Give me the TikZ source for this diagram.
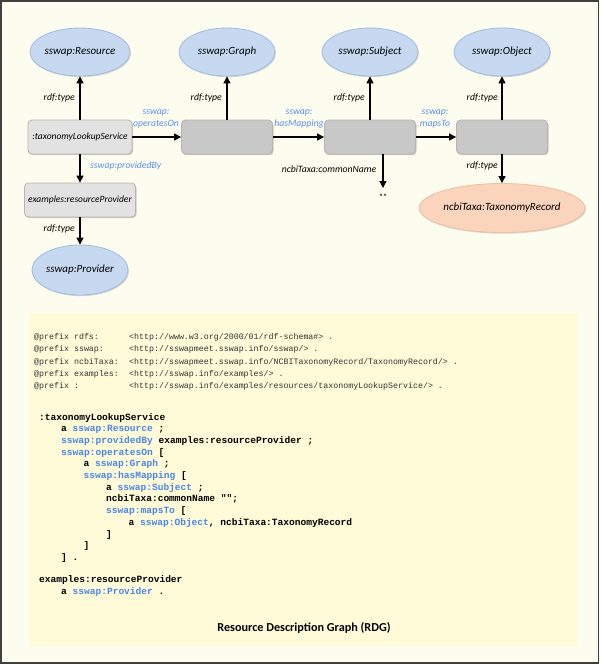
\documentclass[tikz,border=0pt]{standalone}
\usepackage{fontspec}
\setmainfont{Carlito}
\newfontfamily\codefont{Liberation Mono}
\usetikzlibrary{arrows.meta,shapes.geometric,shadows}
\definecolor{outerbg}{RGB}{253,253,239}
\definecolor{codebg}{RGB}{255,251,216}
\definecolor{ellfill}{RGB}{198,217,241}
\definecolor{elldraw}{RGB}{160,188,224}
\definecolor{orfill}{RGB}{251,212,188}
\definecolor{ordraw}{RGB}{240,190,160}
\definecolor{lightbox}{RGB}{226,226,226}
\definecolor{darkbox}{RGB}{200,200,200}
\definecolor{boxdraw}{RGB}{180,180,180}
\definecolor{lblblue}{RGB}{90,140,240}
\definecolor{codeblue}{RGB}{74,134,232}
\newcommand{\cb}[1]{\textcolor{codeblue}{#1}}
\tikzset{
  classell/.style={ellipse, fill=ellfill, draw=elldraw, line width=0.8pt,
    minimum width=96pt, minimum height=48pt, inner sep=0pt,
    font=\itshape\fontsize{11}{12}\selectfont,
    drop shadow={shadow xshift=1pt, shadow yshift=-1.2pt, opacity=0.15, fill=black}},
  orell/.style={classell, fill=orfill, draw=ordraw, minimum width=145pt, minimum height=49pt},
  instbox/.style={rectangle, rounded corners=4pt, fill=lightbox, draw=boxdraw, line width=0.8pt,
    minimum height=34pt, inner sep=0pt,
    font=\itshape\fontsize{9.5}{11}\selectfont,
    drop shadow={shadow xshift=1pt, shadow yshift=-1.2pt, opacity=0.2, fill=black}},
  blankbox/.style={instbox, fill=darkbox, minimum width=91pt},
  rel/.style={-{Triangle[length=7pt,width=7pt]}, line width=1.1pt, black},
  lbl/.style={font=\itshape\fontsize{9.7}{12}\selectfont, inner sep=0pt},
  blbl/.style={lbl, text=lblblue, align=center},
  pref/.style={anchor=base west, inner sep=0pt, font=\codefont\fontsize{8.3}{10}\selectfont, text=black!80},
  body/.style={anchor=base west, inner sep=0pt, font=\codefont\bfseries\fontsize{9.55}{11}\selectfont},
}
\begin{document}
\begin{tikzpicture}[x=1pt,y=-1pt]
\useasboundingbox (0,0) rectangle (600,664);
\fill[outerbg] (0,0) rectangle (600,664);
\draw[black!75, line width=1.6pt] (0.8,0.8) rectangle (598.5,662.8);
\fill[codebg] (29,313) rectangle (578,646);

% diagram nodes
\node[classell] (res) at (80,52) {sswap:Resource};
\node[classell] (gra) at (227,52) {sswap:Graph};
\node[classell] (sub) at (370,52) {sswap:Subject};
\node[classell] (obj) at (502,52) {sswap:Object};
\node[instbox, minimum width=104pt] (tls) at (80,137) {:taxonomyLookupService};
\node[blankbox] (gb) at (227,137) {};
\node[blankbox] (sb) at (370,137) {};
\node[blankbox] (ob) at (502,137) {};
\node[instbox, minimum width=111pt] (rp) at (80,200) {examples:resourceProvider};
\node[classell, minimum height=50pt] (prov) at (80,270) {sswap:Provider};
\node[orell] (tax) at (502,208) {ncbiTaxa:TaxonomyRecord};
\node[lbl, font=\fontsize{9}{10}\selectfont] (empty) at (383,197) {""};
\coordinate (cn) at (383,188);

% connectors
\draw[rel] (tls.north) -- (res.south);
\draw[rel] (gb.north) -- (gra.south);
\draw[rel] (sb.north) -- (sub.south);
\draw[rel] (ob.north) -- (obj.south);
\draw[rel] (ob.south) -- (tax.north);
\draw[rel] (tls.east) -- (gb.west);
\draw[rel] (gb.east) -- (sb.west);
\draw[rel] (sb.east) -- (ob.west);
\draw[rel] (sb.south -| cn) -- (cn);
\draw[rel] (tls.south) -- (rp.north);
\draw[rel] (rp.south) -- (prov.north);

% labels
\node[lbl, anchor=east] (l1) at (75,98) {rdf:type};
\node[lbl, anchor=east] (l2) at (222,98) {rdf:type};
\node[lbl, anchor=east] (l3) at (365,98) {rdf:type};
\node[lbl, anchor=east] (l4) at (498,98) {rdf:type};
\node[lbl, anchor=east] (l5) at (498,166) {rdf:type};
\node[lbl, anchor=east] (l6) at (75,229) {rdf:type};
\node[blbl] (l7) at (156,119) {sswap:\\operatesOn};
\node[blbl] (l8) at (299,119) {sswap:\\hasMapping};
\node[blbl] (l9) at (435,119) {sswap:\\mapsTo};
\node[blbl, anchor=west] (l10) at (90,166) {sswap:providedBy};
\node[lbl] (l11) at (329,169) {ncbiTaxa:commonName};

% prefixes
\node[pref] (p1) at (34,339.5) {@prefix rdfs:};
\node[pref] (p2) at (34,351.8) {@prefix sswap:};
\node[pref] (p3) at (34,364.1) {@prefix ncbiTaxa:};
\node[pref] (p4) at (34,376.4) {@prefix examples:};
\node[pref] (p5) at (34,388.7) {@prefix :};
\node[pref] (u1) at (129,339.5) {<http://www.w3.org/2000/01/rdf-schema\#> .};
\node[pref] (u2) at (129,351.8) {<http://sswapmeet.sswap.info/sswap/> .};
\node[pref] (u3) at (129,364.1) {<http://sswapmeet.sswap.info/NCBITaxonomyRecord/TaxonomyRecord/> .};
\node[pref] (u4) at (129,376.4) {<http://sswap.info/examples/> .};
\node[pref] (u5) at (129,388.7) {<http://sswap.info/examples/resources/taxonomyLookupService/> .};

% body
\node[body] (c1) at (39,420) {:taxonomyLookupService};
\node[body] (c2) at (61,431.7) {a \cb{sswap:Resource} ;};
\node[body] (c3) at (61,443.4) {\cb{sswap:providedBy} examples:resourceProvider ;};
\node[body] (c4) at (61,455.1) {\cb{sswap:operatesOn} [};
\node[body] (c5) at (83.5,466.8) {a \cb{sswap:Graph} ;};
\node[body] (c6) at (83.5,478.5) {\cb{sswap:hasMapping} [};
\node[body] (c7) at (106,490.2) {a \cb{sswap:Subject} ;};
\node[body] (c8) at (106,501.9) {ncbiTaxa:commonName "";};
\node[body] (c9) at (106,513.6) {\cb{sswap:mapsTo} [};
\node[body] (c10) at (128.5,525.3) {a \cb{sswap:Object}, ncbiTaxa:TaxonomyRecord};
\node[body] (c11) at (106,537) {]};
\node[body] (c12) at (83.5,548.7) {]};
\node[body] (c13) at (61,560.4) {] .};
\node[body] (c14) at (39,582.5) {examples:resourceProvider};
\node[body] (c15) at (61,594.2) {a \cb{sswap:Provider} .};

\node[font=\bfseries\fontsize{12.2}{14}\selectfont, inner sep=0pt] (title) at (304,628) {Resource Description Graph (RDG)};
\end{tikzpicture}
\end{document}
